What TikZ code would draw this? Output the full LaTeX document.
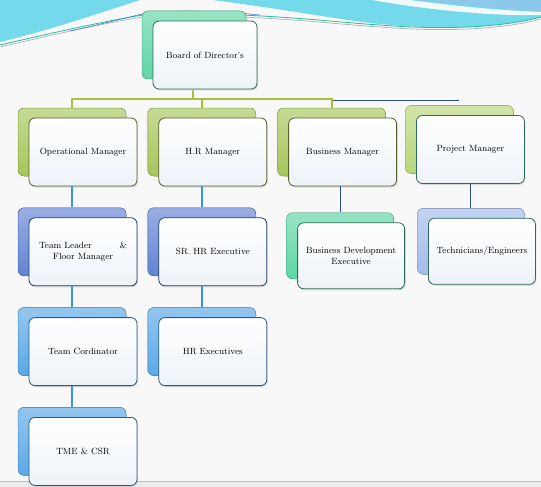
\documentclass[tikz,border=0pt]{standalone}
\usetikzlibrary{positioning,shadows}

\definecolor{pagebg}{HTML}{F8F8F8}
\definecolor{wavecyan}{HTML}{74D9EA}
\definecolor{waveblue}{HTML}{8CC8EC}
\definecolor{waveteal}{HTML}{1FBFA0}
\definecolor{wavenavy}{HTML}{3070C8}
\definecolor{cardwhite}{HTML}{EEF3F8}
\definecolor{mintback}{HTML}{5FD6A6}
\definecolor{oliveback}{HTML}{A6C65A}
\definecolor{royalback}{HTML}{6283D4}
\definecolor{skyback}{HTML}{5AA8E6}
\definecolor{paleback}{HTML}{A4BCEC}
\definecolor{limeback}{HTML}{B9D67A}
\definecolor{tealedge}{HTML}{2F6B5A}
\definecolor{oliveedge}{HTML}{5A6030}
\definecolor{navyedge}{HTML}{203F66}
\definecolor{steeledge}{HTML}{2A5A80}
\definecolor{busgreen}{HTML}{A8C040}
\definecolor{linkblue}{HTML}{3A94DA}
\definecolor{linknavy}{HTML}{2B4F8F}

\tikzset{
  post/.style={draw=#1, rounded corners=6pt, line width=0.8pt,
    minimum width=108pt, minimum height=68pt, align=center,
    font=\fontsize{9}{10.5}\selectfont, top color=white, bottom color=cardwhite},
  backcard/.style={copy shadow={shadow xshift=-11pt, shadow yshift=10pt,
    draw=#1!85!black, line width=0.5pt, top color=#1!65!white, bottom color=#1}},
  soft/.style={drop shadow={opacity=0.25, shadow xshift=1pt, shadow yshift=-1.5pt}},
  busline/.style={draw=busgreen, line width=2pt},
  colline/.style={draw=linkblue, line width=1.6pt},
  navyline/.style={draw=linknavy, line width=0.9pt},
}

\begin{document}
\begin{tikzpicture}[x=1pt, y=-1pt]
  \useasboundingbox (0,0) rectangle (541,487);
  \fill[pagebg] (0,0) rectangle (541,487);
  \fill[black!8] (0,481) rectangle (541,487);
  \draw[black!25, line width=0.8pt] (0,481) -- (541,481);

  % top wave
  \fill[wavecyan] (0,0) -- (140,0) .. controls (100,13) and (50,30) .. (0,42) -- cycle;
  \fill[wavecyan] (213,0) .. controls (290,10) and (340,20) .. (380,24)
    .. controls (440,30) and (500,28) .. (541,17) -- (541,0) -- cycle;
  \fill[waveblue] (410,0) .. controls (460,4) and (510,9) .. (541,12) -- (541,0) -- cycle;
  \fill[white!90!wavecyan] (372,0) .. controls (440,12) and (500,16) .. (541,15) -- (541,12)
    .. controls (490,10) and (440,4) .. (410,0) -- cycle;
  \draw[black!30, line width=0.7pt] (0,47) .. controls (60,33) and (120,20) .. (150,16)
    .. controls (260,14) and (330,24) .. (380,27) .. controls (440,32) and (500,30) .. (541,19);
  \draw[waveteal, line width=0.8pt] (0,45) .. controls (60,31) and (120,18) .. (150,14)
    .. controls (260,12) and (330,22) .. (380,25) .. controls (440,30) and (500,28) .. (541,17);
  \draw[wavenavy, line width=0.5pt] (70,31) .. controls (110,22) and (130,17) .. (150,12)
    .. controls (200,10) and (230,12) .. (260,15);

  % boxes
  \node[post=tealedge, backcard=mintback, soft, minimum width=104pt] (board) at (205,55) {Board of Director's};

  \node[post=oliveedge, backcard=oliveback, soft] (opm) at (83,152) {Operational Manager};
  \node[post=oliveedge, backcard=oliveback, soft, right=21pt of opm] (hrm) {H.R Manager};
  \node[post=oliveedge, backcard=oliveback, soft, right=21pt of hrm] (bsm) {Business Manager};
  \node[post=tealedge, backcard=limeback, soft, right=19pt of bsm, yshift=2.5pt] (pjm) {Project Manager};

  \node[post=navyedge, backcard=royalback, soft, below=31pt of opm] (tlm)
    {\makebox[88pt]{Team Leader\hfill\&}\\Floor Manager};
  \node[post=navyedge, backcard=royalback, soft, below=31pt of hrm] (srhr) {SR. HR Executive};
  \node[post=tealedge, backcard=mintback, soft, below=36pt of bsm, xshift=8.5pt,
    minimum width=107pt, minimum height=66pt] (bde) {Business Development\\Executive};
  \node[post=tealedge, backcard=paleback, soft, below=34pt of pjm, xshift=11.5pt,
    minimum width=107pt, minimum height=66pt] (tech) {Technicians/Engineers};

  \node[post=steeledge, backcard=skyback, soft, below=31pt of tlm] (tcord) {Team Cordinator};
  \node[post=steeledge, backcard=skyback, soft, below=31pt of srhr] (hrex) {HR Executives};
  \node[post=steeledge, backcard=skyback, soft, below=31pt of tcord] (tme) {TME \& CSR};

  % connectors
  \foreach \n in {opm,hrm,bsm,tlm,srhr,bde,tech,tcord,hrex,tme}
    \coordinate (\n-top) at ([shift={(-11pt,10pt)}]\n.north);
  \coordinate (bus) at ([xshift=-12pt, yshift=-10pt]board.south);
  \coordinate (busend) at (459,100);
  \draw[busline] ([xshift=-12pt]board.south) -- (bus);
  \draw[navyline] (bsm-top |- busend) -- (busend);
  \foreach \n in {opm,hrm,bsm}
    \draw[busline] (bus) -| (\n-top);

  \foreach \a/\b in {opm/tlm, tlm/tcord, tcord/tme, hrm/srhr, srhr/hrex}
    \draw[colline] (\b-top) -- (\b-top |- \a.south);
  \foreach \a/\b in {bsm/bde, pjm/tech}
    \draw[navyline] (\b-top) -- (\b-top |- \a.south);
\end{tikzpicture}
\end{document}
